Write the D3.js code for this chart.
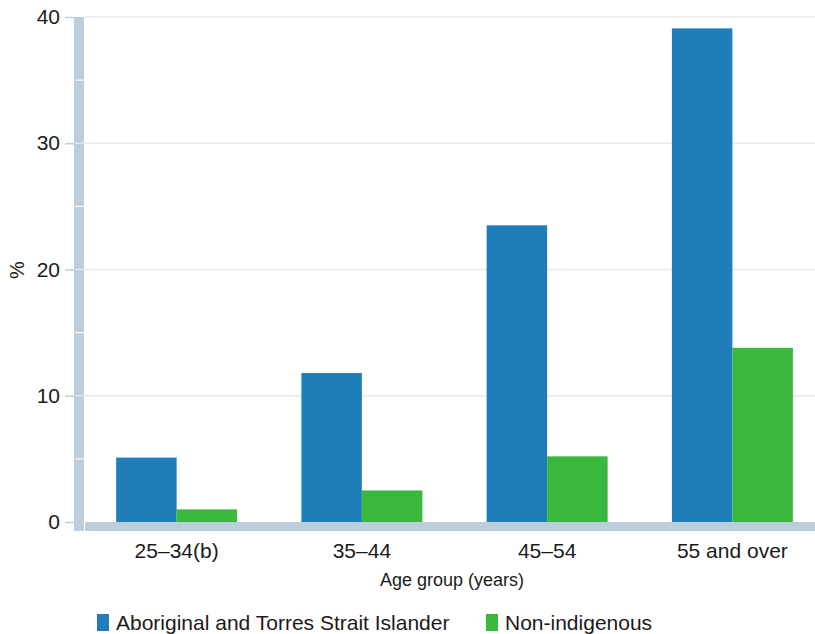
<!DOCTYPE html>
<html>
<head>
<meta charset="utf-8">
<script src="https://cdn.jsdelivr.net/npm/d3@7"></script>
<style>
  html, body { margin: 0; padding: 0; background: #fff; }
  svg { display: block; font-family: "Liberation Sans", Arial, Helvetica, sans-serif; }
</style>
</head>
<body>
<svg id="chart" width="815" height="634"></svg>
<script>
// Age groups and the percentage for each population group
const categories = ["25–34(b)", "35–44", "45–54", "55 and over"];
const seriesNames = ["Aboriginal and Torres Strait Islander", "Non-indigenous"];
const aboriginal = [5.1, 11.8, 23.5, 39.1];
const nonIndigenous = [1.0, 2.5, 5.2, 13.8];
const yTicks = [0, 10, 20, 30, 40];
const yMinorTicks = [5, 15, 25, 35];

const colors = ["#1f7dba", "#3ab83d"];
const axisColor = "#bccddc";
const gridColor = "#e8e8e8";
const textColor = "#1a1a1a";

const svg = d3.select("#chart");

const plot = { left: 85, right: 815, top: 17, bottom: 522 };

const y = d3.scaleLinear().domain([0, 40]).range([plot.bottom, plot.top]);

const x0 = d3.scaleBand()
  .domain(categories)
  .range([84, 825])
  .paddingInner(0.347)
  .paddingOuter(0.1735);

const x1 = d3.scaleBand()
  .domain(seriesNames)
  .range([0, x0.bandwidth()])
  .padding(0);

// Horizontal gridlines
svg.append("g")
  .selectAll("line")
  .data(yTicks.filter(d => d > 0))
  .join("line")
  .attr("x1", plot.left)
  .attr("x2", plot.right)
  .attr("y1", d => y(d))
  .attr("y2", d => y(d))
  .attr("stroke", gridColor)
  .attr("stroke-width", 1.5);

// Grouped bars
const rows = categories.map((c, i) => ({ cat: c, values: [aboriginal[i], nonIndigenous[i]] }));
const groups = svg.append("g")
  .selectAll("g")
  .data(rows)
  .join("g")
  .attr("transform", d => `translate(${x0(d.cat)},0)`);

groups.selectAll("rect")
  .data(d => d.values.map((v, j) => ({ name: seriesNames[j], value: v, j })))
  .join("rect")
  .attr("x", d => x1(d.name))
  .attr("y", d => y(d.value))
  .attr("width", x1.bandwidth())
  .attr("height", d => y(0) - y(d.value))
  .attr("fill", d => colors[d.j]);

// Thick left axis bar
svg.append("rect")
  .attr("x", 74).attr("y", plot.top)
  .attr("width", 10).attr("height", plot.bottom + 9 - plot.top)
  .attr("fill", axisColor);

// Thick bottom axis bar
svg.append("rect")
  .attr("x", plot.left).attr("y", plot.bottom)
  .attr("width", plot.right - plot.left).attr("height", 9)
  .attr("fill", axisColor);

// White notches across the left bar at minor and major positions
svg.append("g")
  .selectAll("line")
  .data(yMinorTicks.concat([10, 20, 30]))
  .join("line")
  .attr("x1", 75).attr("x2", 84)
  .attr("y1", d => y(d)).attr("y2", d => y(d))
  .attr("stroke", "#ffffff")
  .attr("stroke-opacity", d => yMinorTicks.includes(d) ? 0.9 : 0.6)
  .attr("stroke-width", 1.2);

// Y axis ticks and labels
const yAxis = d3.axisLeft(y).tickValues(yTicks).tickSize(9).tickPadding(5);
const gy = svg.append("g")
  .attr("transform", "translate(74,0)")
  .call(yAxis);
gy.select(".domain").remove();
gy.selectAll(".tick line").attr("stroke", axisColor).attr("stroke-width", 1.5);
gy.selectAll(".tick text")
  .attr("fill", textColor)
  .style("font-size", "21px")
  .style("font-family", "'Liberation Sans', Arial, sans-serif");

// X axis labels
const xAxis = d3.axisBottom(x0).tickSize(0).tickPadding(0);
const gx = svg.append("g")
  .attr("transform", `translate(0,${plot.bottom + 9})`)
  .call(xAxis);
gx.select(".domain").remove();
gx.selectAll(".tick text")
  .attr("fill", textColor)
  .attr("dy", null)
  .attr("y", 27)
  .style("font-size", "21px")
  .style("font-family", "'Liberation Sans', Arial, sans-serif");

// Axis titles
svg.append("text")
  .attr("x", 452).attr("y", 586)
  .attr("text-anchor", "middle")
  .attr("fill", textColor)
  .style("font-size", "18px")
  .text("Age group (years)");

svg.append("text")
  .attr("transform", "translate(24,270) rotate(-90)")
  .attr("text-anchor", "middle")
  .attr("fill", textColor)
  .style("font-size", "20px")
  .text("%");

// Legend
const legendItems = [
  { name: seriesNames[0], color: colors[0], x: 97 },
  { name: seriesNames[1], color: colors[1], x: 486 }
];
const legend = svg.append("g");
legend.selectAll("rect")
  .data(legendItems)
  .join("rect")
  .attr("x", d => d.x).attr("y", 614)
  .attr("width", 12).attr("height", 17)
  .attr("fill", d => d.color);
legend.selectAll("text")
  .data(legendItems)
  .join("text")
  .attr("x", d => d.x + 19).attr("y", 630)
  .attr("fill", textColor)
  .style("font-size", "21px")
  .text(d => d.name);
</script>
</body>
</html>
